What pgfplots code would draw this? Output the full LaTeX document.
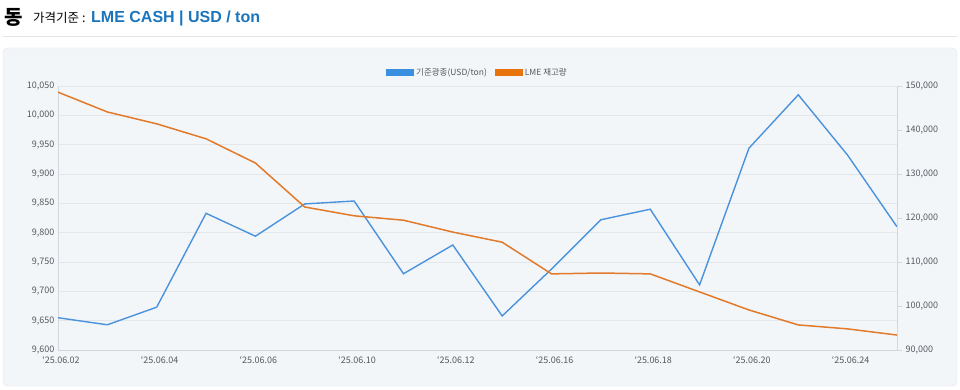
\documentclass[border=0pt]{standalone}
\usepackage{fontspec}
\setmainfont{Noto Sans CJK KR}
\newfontfamily\lat{Liberation Sans}
\usepackage{pgfplots}
\pgfplotsset{compat=1.18}
\definecolor{bl}{HTML}{4A93DC}
\definecolor{blL}{HTML}{3B8FE0}
\definecolor{orL}{HTML}{E8730C}
\definecolor{or}{HTML}{E27A2C}
\definecolor{ttl}{HTML}{1B75BC}
\definecolor{panel}{HTML}{F3F6F9}
\definecolor{pborder}{HTML}{E1E5EA}
\definecolor{gridc}{HTML}{E3E7EC}
\definecolor{axc}{HTML}{D3D8DE}
\definecolor{tickc}{HTML}{555A60}
\pgfplotstableread{
x blue orange
0 9655 148600
1 9643 144100
2 9673 141400
3 9833 138000
4 9794 132500
5 9849 122500
6 9854 120500
7 9730 119500
8 9779 116800
9 9658 114500
10 9738 107300
11 9822 107500
12 9840 107300
13 9711 103200
14 9944 99100
15 10035 95700
16 9932 94800
17 9810 93400
}\datatab
\begin{document}
\begin{tikzpicture}
\useasboundingbox (0pt,0pt) rectangle (960pt,-390pt);
\fill[white] (0pt,0pt) rectangle (960pt,-390pt);
\node[anchor=west,inner sep=0pt,font=\bfseries\fontsize{20}{20}\selectfont] at (4pt,-17pt) {동};
\node[anchor=base west,inner sep=0pt,font=\fontsize{12.5}{12.5}\selectfont] at (33pt,-23pt) {가격기준 :};
\node[anchor=base west,inner sep=0pt,font=\lat\bfseries\fontsize{16}{16}\selectfont,text=ttl] at (91pt,-23pt) {LME CASH | USD / ton};
\draw[draw=pborder,line width=0.8pt] (3pt,-36.5pt) -- (957pt,-36.5pt);
\draw[fill=panel,draw=pborder,rounded corners=5pt] (3pt,-48pt) rectangle (957pt,-386pt);
\begin{axis}[
  at={(58pt,-350pt)}, anchor=south west,
  scale only axis, width=839pt, height=264pt,
  xmin=0, xmax=17, ymin=9600, ymax=10050,
  axis x line*=bottom, axis y line*=left,
  axis line style={draw=axc, line width=0.7pt, -},
  xtick={0,2,4,6,8,10,12,14,16},
  xticklabels={‘25.06.02,‘25.06.04,‘25.06.06,‘25.06.10,‘25.06.12,‘25.06.16,‘25.06.18,‘25.06.20,‘25.06.24},
  ytick={9600,9650,...,10050},
  ymajorgrids, grid style={draw=gridc, line width=0.6pt},
  major tick length=0pt,
  tick label style={font=\fontsize{9}{9}\selectfont, text=tickc},
  xticklabel style={yshift=-3pt, xshift=3pt},
  scaled y ticks=false,
  /pgf/number format/.cd, fixed, precision=0, 1000 sep={,}, assume math mode=true,
  /pgfplots/.cd,
  legend image code/.code={\path[#1, draw=none] (0pt,-3.8pt) rectangle (28pt,3.8pt);},
  legend columns=2,
  legend style={at={(0.5,1)}, anchor=south, yshift=5pt, draw=none, fill=none,
    font=\fontsize{8.5}{8.5}\selectfont, text=tickc,
    /tikz/every even column/.append style={column sep=6pt}},
]
\addlegendimage{fill=blL}
\addlegendentry{기준광종(USD/ton)}
\addlegendimage{fill=orL}
\addlegendentry{LME 재고량}
\addplot[bl, line width=1.4pt, forget plot] table[x=x,y=blue] {\datatab};
\end{axis}
\begin{axis}[
  at={(58pt,-350pt)}, anchor=south west,
  scale only axis, width=839pt, height=264pt,
  xmin=0, xmax=17, ymin=90000, ymax=150000,
  axis x line=none, axis y line*=right,
  axis line style={draw=axc, line width=0.7pt, -},
  ytick={90000,100000,...,150000},
  major tick length=5pt, tick align=outside,
  major tick style={draw=axc, line width=0.7pt},
  tick label style={font=\fontsize{9}{9}\selectfont, text=tickc},
  scaled y ticks=false,
  /pgf/number format/.cd, fixed, precision=0, 1000 sep={,}, assume math mode=true,
]
\addplot[or, line width=1.5pt] table[x=x,y=orange] {\datatab};
\end{axis}
\end{tikzpicture}
\end{document}
